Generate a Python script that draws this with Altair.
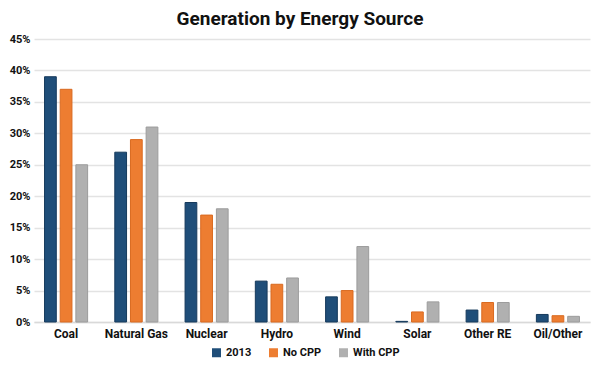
import altair as alt
import pandas as pd

categories = ["Coal", "Natural Gas", "Nuclear", "Hydro", "Wind", "Solar", "Other RE", "Oil/Other"]
series = ["2013", "No CPP", "With CPP"]
v2013 = [39.0, 27.0, 19.0, 6.5, 4.0, 0.1, 1.9, 1.2]
vNoCPP = [37.0, 29.0, 17.0, 6.0, 5.0, 1.6, 3.1, 1.0]
vWithCPP = [25.0, 31.0, 18.0, 7.0, 12.0, 3.2, 3.1, 0.9]
colors = ["#1f4e79", "#ed7d31", "#b0b0b0"]
strokes = ["#163a5c", "#d96a20", "#9c9c9c"]

rows = []
for s, vals in zip(series, [v2013, vNoCPP, vWithCPP]):
    for c, v in zip(categories, vals):
        rows.append({"Source": c, "Scenario": s, "Value": v})
df = pd.DataFrame(rows)

font = "Roboto"

chart = alt.Chart(df).mark_bar(strokeWidth=1).encode(
    x=alt.X("Source:N", sort=categories, title=None,
            scale=alt.Scale(paddingInner=0.387, paddingOuter=0.15),
            axis=alt.Axis(labelAngle=0, labelFont=font, labelFontWeight="bold",
                          labelFontSize=12, labelColor="#111", ticks=False,
                          domainColor="#d9d9d9", domainWidth=1.5, labelPadding=6)),
    xOffset=alt.XOffset("Scenario:N", sort=series,
                        scale=alt.Scale(paddingInner=0.25, paddingOuter=0)),
    y=alt.Y("Value:Q", title=None,
            scale=alt.Scale(domain=[0, 45], nice=False),
            axis=alt.Axis(values=[0, 5, 10, 15, 20, 25, 30, 35, 40, 45],
                          labelExpr="datum.value + '%'", labelFont=font,
                          labelFontWeight="bold", labelFontSize=11, labelColor="#111",
                          ticks=False, domain=False, gridColor="#e3e3e3",
                          gridWidth=1.5, labelPadding=4)),
    color=alt.Color("Scenario:N", sort=series,
                    scale=alt.Scale(domain=series, range=colors),
                    legend=alt.Legend(title=None, orient="none", direction="horizontal",
                                      legendX=177, legendY=308, symbolType="square",
                                      symbolSize=81, symbolStrokeWidth=0,
                                      labelFont=font, labelFontWeight="bold",
                                      labelFontSize=11, labelColor="#111",
                                      columnPadding=16, labelOffset=4)),
    stroke=alt.Stroke("Scenario:N", sort=series,
                      scale=alt.Scale(domain=series, range=strokes), legend=None),
).properties(
    width=556,
    height=283,
    title=alt.TitleParams("Generation by Energy Source", font=font, fontSize=19,
                          fontWeight="bold", color="#111", offset=4, dx=-12),
    autosize=alt.AutoSizeParams(type="none"),
    padding={"left": 26, "top": 31, "right": 3, "bottom": 40},
).configure_view(stroke=None)

chart.save("out.html", embed_options={"renderer": "svg", "actions": False})
